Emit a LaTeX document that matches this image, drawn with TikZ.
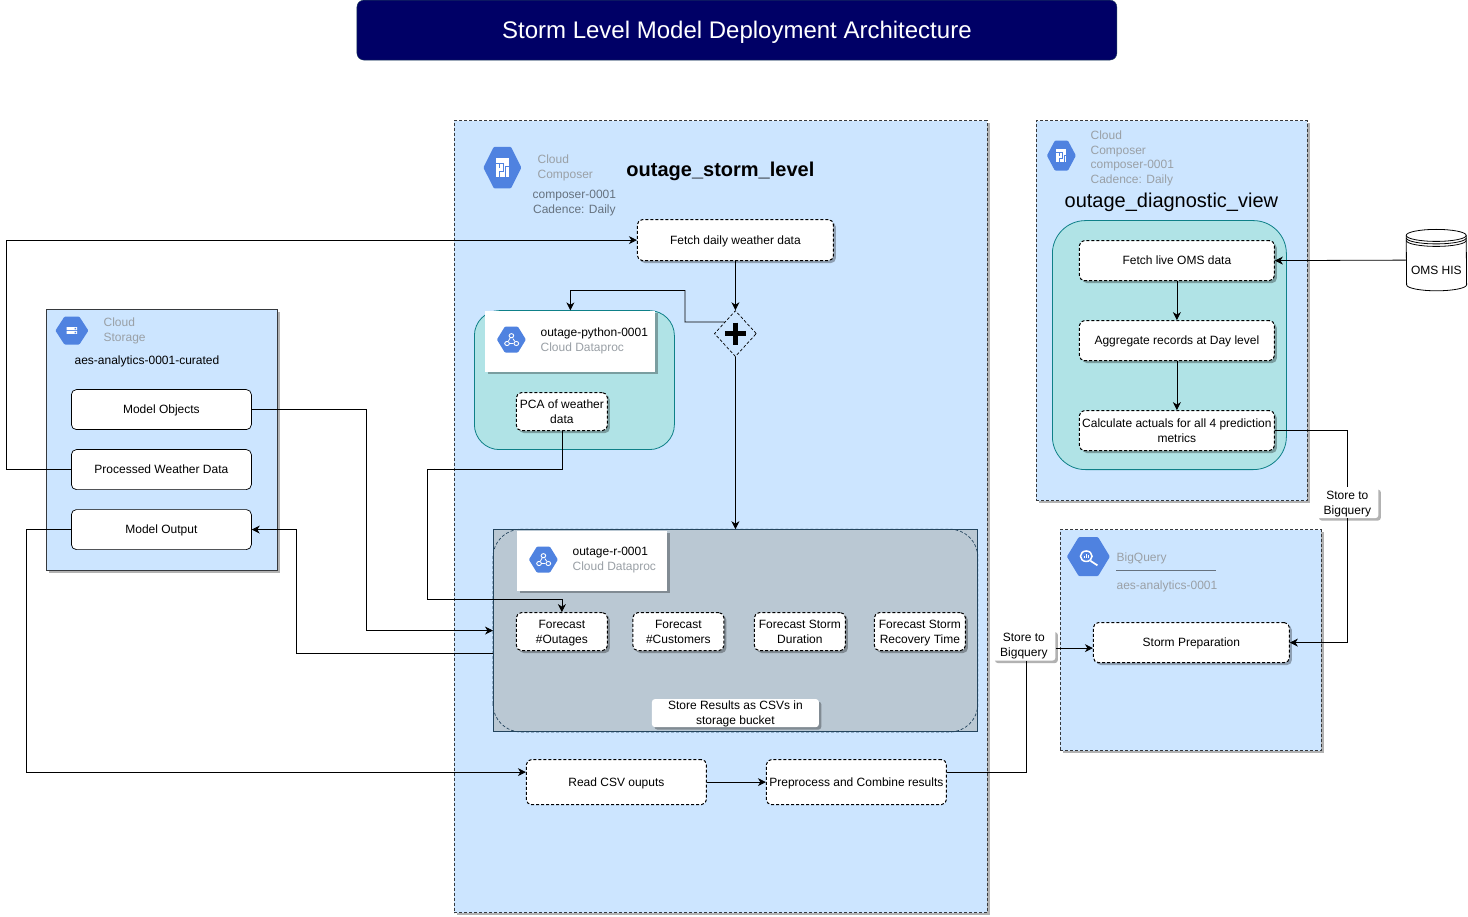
\documentclass[tikz,border=0pt]{standalone}
\usepackage{fontspec}
\setmainfont{Liberation Sans}
\usepackage{xcolor}
\usetikzlibrary{calc,positioning,shadows,shapes.geometric,arrows.meta}

\definecolor{panelblue}{HTML}{CCE5FF}
\definecolor{panelline}{HTML}{36393D}
\definecolor{tealfill}{HTML}{B0E3E6}
\definecolor{tealline}{HTML}{0E8088}
\definecolor{slatefill}{HTML}{BAC8D3}
\definecolor{slateline}{HTML}{23445D}
\definecolor{titlenavy}{HTML}{000066}
\definecolor{hexblue}{HTML}{4F82E0}
\definecolor{mutedtext}{HTML}{9AA0A6}
\definecolor{slatetext}{HTML}{66727F}

\newcommand{\hexfill}{\fill[hexblue,rounded corners=1pt] (-10,0) -- (-4.5,-10) -- (4.5,-10) -- (10,0) -- (4.5,10) -- (-4.5,10) -- cycle;}

\tikzset{
  softshadow/.style={drop shadow={shadow xshift=2.5pt,shadow yshift=-2.5pt,fill=black,opacity=.3}},
  panel/.style={draw=panelline,fill=panelblue,line width=.8pt,dash pattern=on 3pt off 2pt,softshadow,inner sep=0pt},
  stepbox/.style={draw=black,fill=white,line width=1pt,dash pattern=on 3pt off 2pt,rounded corners=5pt,align=center,inner sep=1pt,font=\fontsize{12}{15}\selectfont},
  shadowbox/.style={stepbox,softshadow},
  storebox/.style={draw=black,fill=white,line width=.7pt,rounded corners=5pt,align=center,inner sep=1pt,font=\fontsize{12}{15}\selectfont},
  notebox/.style={fill=white,rounded corners=3pt,softshadow,align=center,inner sep=0pt,font=\fontsize{12}{15}\selectfont},
  card/.style={fill=white,softshadow,inner sep=0pt},
  txt/.style={anchor=west,inner sep=0pt,font=\fontsize{12}{15}\selectfont},
  mutedtxt/.style={txt,text=mutedtext},
  flow/.style={draw=black,line width=.8pt,-{Stealth[length=8pt,width=8pt,inset=2.5pt]}},
  composericon/.pic={
    \hexfill
    \fill[white] (-3.4,-4.4) rectangle (3.4,4.6);
    \draw[hexblue,line width=.8pt] (-3.4,-2.2) -- (.4,-2.2) (.4,-2.2) -- (.4,1.8) -- (-1.4,1.8) -- (-1.4,4.6) (1.8,4.6) -- (1.8,-.4) -- (3.4,-.4) (-1.6,-2.2) -- (-1.6,.2);
  },
  dataprocicon/.pic={
    \hexfill
    \draw[white,line width=.8pt] (0,-3) -- (-3,3) -- (3.4,3) -- (1,-.8);
    \fill[hexblue] (0,-3) circle (2);
    \fill[hexblue] (-3,3) circle (2);
    \fill[hexblue] (3.4,3) circle (2);
    \draw[white,line width=.9pt] (0,-3) circle (1.6) (-3,3) circle (1.6) (3.4,3) circle (1.6);
  },
  storageicon/.pic={
    \hexfill
    \fill[white] (-3.2,-2.4) rectangle (3.2,-.4) (-3.2,.4) rectangle (3.2,2.4);
    \fill[hexblue] (1.6,-1.9) rectangle (2.6,-.9) (1.6,.9) rectangle (2.6,1.9);
  },
  bigqueryicon/.pic={
    \hexfill
    \draw[white,line width=1.5pt] (-1,-.2) circle (2.7);
    \draw[white,line width=1.7pt] (1,2.2) -- (4.2,4.5);
    \draw[white,line width=.7pt] (-2,.6) -- (-2,-.2) (-1,.6) -- (-1,-1.4) (0,.6) -- (0,-.6);
  },
}

\begin{document}
\begin{tikzpicture}[x=1pt,y=-1pt,every node/.style={text depth=0pt}]
\useasboundingbox (.6,.4) rectangle (1468.6,917.4);

\node (title) at (737.5,30.5)[draw=slateline,fill=titlenavy,rounded corners=7pt,minimum width=760pt,minimum height=60pt,text=white,font=\fontsize{24}{28}\selectfont]{Storm Level Model Deployment Architecture};

% panels
\node (stormpanel) at (721.5,517)[panel,minimum width=533pt,minimum height=792pt]{};
\node (viewpanel) at (1172.5,311)[panel,minimum width=271pt,minimum height=380pt]{};
\node (bqpanel) at (1191.5,640.5)[panel,minimum width=261pt,minimum height=221pt]{};
\node (storagepanel) at (162.5,440.5)[draw=panelline,fill=panelblue,line width=.7pt,softshadow,minimum width=231pt,minimum height=261pt]{};

% outage_storm_level
\pic[xscale=1.9,yscale=2.08] at (503,168) {composericon};
\node (composerhead) at (538,167)[mutedtxt,align=left]{Cloud\\Composer};
\node (composerinfo) at (575,202.5)[text=slatetext,align=center,inner sep=0pt,font=\fontsize{12}{15}\selectfont]{composer-0001\\Cadence: Daily};
\node (stormname) at (721,170)[inner sep=0pt,font=\fontsize{20}{24}\selectfont\bfseries]{outage\_storm\_level};
\node (fetch) at (736,240.5)[shadowbox,minimum width=196pt,minimum height=41pt]{Fetch daily weather data};
\node (plus) at (736,334)[diamond,draw=black,line width=.7pt,dash pattern=on 3pt off 2pt,fill=panelblue,minimum width=42pt,minimum height=46pt,inner sep=0pt]{};
\draw[line width=5pt,draw=black] (736,323) -- (736,345) (725.5,334) -- (746.5,334);

\node (pybox) at (575,380.5)[draw=tealline,fill=tealfill,line width=.8pt,rounded corners=25pt,minimum width=200pt,minimum height=139pt]{};
\node (pycard) at (571,341.5)[card,minimum width=170pt,minimum height=61pt]{};
\pic[xscale=1.45,yscale=1.3] at (512,340) {dataprocicon};
\node (pyname) at (541,333)[txt]{outage-python-0001};
\node (pykind) at (541,348)[mutedtxt]{Cloud Dataproc};
\node (pca) at (562.5,412)[shadowbox,minimum width=91pt,minimum height=38pt]{PCA of weather\\data};

\node (rblock) at (736,631)[draw=slateline,fill=slatefill,line width=.8pt,minimum width=484pt,minimum height=202pt]{};
\draw[slateline,line width=.7pt,dash pattern=on 3pt off 2pt,rounded corners=28pt] (rblock.south west) rectangle (rblock.north east);
\node (rcard) at (593,561)[card,minimum width=150pt,minimum height=60pt]{};
\pic[xscale=1.45,yscale=1.3] at (544,560) {dataprocicon};
\node (rname) at (573,552)[txt]{outage-r-0001};
\node (rkind) at (573,567)[mutedtxt]{Cloud Dataproc};
\node (outages) at (562.5,632)[shadowbox,minimum width=91pt,minimum height=38pt]{Forecast\\\#Outages};
\node (customers) at (679,632)[shadowbox,minimum width=91pt,minimum height=38pt]{Forecast\\\#Customers};
\node (duration) at (800.5,632)[shadowbox,minimum width=91pt,minimum height=38pt]{Forecast Storm\\Duration};
\node (recovery) at (920.5,632)[shadowbox,minimum width=91pt,minimum height=38pt]{Forecast Storm\\Recovery Time};
\node (csvstore) at (736,713.5)[notebox,minimum width=167pt,minimum height=28pt]{Store Results as CSVs in\\storage bucket};
\node (read) at (617,782.5)[stepbox,minimum width=180pt,minimum height=45pt]{Read CSV ouputs};
\node (combine) at (857,782.5)[stepbox,minimum width=180pt,minimum height=45pt]{Preprocess and Combine results};

% outage_diagnostic_view
\pic[xscale=1.45,yscale=1.5] at (1062,156) {composericon};
\node (viewhead) at (1091,157.5)[mutedtxt,align=left,font=\fontsize{12}{14.4}\selectfont]{Cloud\\Composer\\composer-0001\\Cadence: Daily};
\node (viewname) at (1172,201)[inner sep=0pt,font=\fontsize{20}{24}\selectfont]{outage\_diagnostic\_view};
\node (viewbox) at (1170,345.5)[draw=tealline,fill=tealfill,line width=.8pt,rounded corners=33pt,minimum width=234pt,minimum height=249pt]{};
\node (live) at (1177.5,261)[shadowbox,minimum width=195pt,minimum height=40pt]{Fetch live OMS data};
\node (agg) at (1177.5,341)[shadowbox,minimum width=195pt,minimum height=40pt]{Aggregate records at Day level};
\node (actuals) at (1177.5,431)[shadowbox,minimum width=195pt,minimum height=40pt]{Calculate actuals for all 4 prediction\\metrics};

\node (oms) at (1437,260.5)[inner sep=0pt,minimum width=60pt,minimum height=61pt]{};
\draw[black,fill=white,line width=.8pt] ([yshift=-6pt]oms.north west) arc[start angle=180,end angle=0,x radius=30pt,y radius=6pt] -- ([yshift=6pt]oms.south east) arc[start angle=0,end angle=-180,x radius=30pt,y radius=6pt] -- cycle;
\foreach \drop in {6,8.5,11}
  \draw[black,line width=.8pt] ([yshift=-\drop pt]oms.north west) arc[start angle=180,end angle=360,x radius=30pt,y radius=6pt];
\node (omstext) at (1437,270.5)[inner sep=0pt,font=\fontsize{12}{15}\selectfont]{OMS HIS};

% bigquery
\pic[xscale=2.15,yscale=1.95] at (1089,557) {bigqueryicon};
\node (bqname) at (1117,558)[mutedtxt]{BigQuery};
\node (bqdata) at (1117,586)[mutedtxt]{aes-analytics-0001};
\draw[slatetext,line width=.6pt] (1117,571) -- (1217,571);
\node (storm) at (1192,643)[shadowbox,minimum width=196pt,minimum height=40pt]{Storm Preparation};

% cloud storage
\pic[xscale=1.65,yscale=1.4] at (72.5,331) {storageicon};
\node (storagehead) at (104,330.5)[mutedtxt,align=left]{Cloud\\Storage};
\node (bucket) at (75,361)[txt]{aes-analytics-0001-curated};
\node (objects) at (162,410)[storebox,minimum width=180pt,minimum height=40pt]{Model Objects};
\node (weather) at (162,470)[storebox,minimum width=180pt,minimum height=40pt]{Processed Weather Data};
\node (output) at (162,530)[storebox,minimum width=180pt,minimum height=40pt]{Model Output};

% labels sitting on the lines
\node (storeleft) at (1024.5,645.5)[notebox,minimum width=63pt,minimum height=31pt]{Store to\\Bigquery};
\node (storeright) at (1348,503)[notebox,minimum width=62pt,minimum height=31pt]{Store to\\Bigquery};

% connectors
\coordinate (pcadrop) at (428,470);
\coordinate (pcarun) at (428,600);
\coordinate (weatherturn) at (7,470);
\coordinate (objectsturn) at (367,410);
\coordinate (outputturn) at (297,654);
\coordinate (csvturn) at (27,530);
\coordinate (storeout) at ([yshift=-3pt]storeleft.east);
\draw[flow] (weather.west) -- (weatherturn) |- (fetch.west);
\draw[flow] (fetch.south) -- (plus.north);
\draw[flow] (plus.north west) -- (685.5,322.5) -- (685.5,291) -| (pycard.north);
\draw[flow] (plus.south) -- (rblock.north);
\draw[flow] (pca.south) |- (pcadrop) -- (pcarun) -| (outages.north);
\draw[flow] (objects.east) -- (objectsturn) |- (rblock.west);
\draw[flow] (rblock.west |- outputturn) -- (outputturn) |- (output.east);
\draw[flow] (output.west) -- (csvturn) |- ([yshift=10pt]read.west);
\draw[flow] (read.east) -- (combine.west);
\draw[draw=black,line width=.8pt] ([yshift=10pt]combine.east) -| ([xshift=2.5pt]storeleft.south);
\draw[flow] (storeout) -- (storeout -| storm.west);
\draw[draw=black,line width=.8pt] (actuals.east) -| (storeright.north);
\draw[flow] (storeright.south) |- (storm.east);
\draw[flow] (oms.west) -- (live.east);
\draw[flow] (live.south) -- (agg.north);
\draw[flow] (agg.south) -- (actuals.north);
\end{tikzpicture}
\end{document}
